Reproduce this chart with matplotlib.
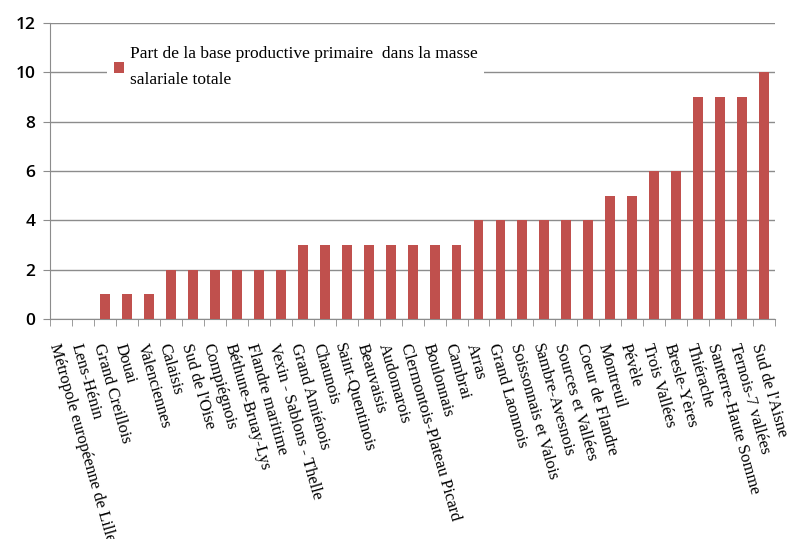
import matplotlib
matplotlib.use("Agg")
import matplotlib.pyplot as plt
import numpy as np

territoires = [
    "Métropole européenne de Lille", "Lens-Hénin", "Grand Creillois", "Douai",
    "Valenciennes", "Calaisis", "Sud de l'Oise", "Compiégnois", "Béthune-Bruay-Lys",
    "Flandre maritime", "Vexin - Sablons - Thelle", "Grand Amiénois", "Chaunois",
    "Saint-Quentinois", "Beauvaisis", "Audomarois", "Clermontois-Plateau Picard",
    "Boulonnais", "Cambrai", "Arras", "Grand Laonnois", "Soissonnais et Valois",
    "Sambre-Avesnois", "Sources et Vallées", "Coeur de Flandre", "Montreuil",
    "Pévèle", "Trois Vallées", "Bresle-Yères", "Thiérache", "Santerre-Haute Somme",
    "Ternois-7 vallées", "Sud de l'Aisne",
]
part = [0, 0, 1, 1, 1, 2, 2, 2, 2, 2, 2, 3, 3, 3, 3, 3, 3, 3, 3,
        4, 4, 4, 4, 4, 4, 5, 5, 6, 6, 9, 9, 9, 10]
serie = "Part de la base productive primaire  dans la masse\nsalariale totale"

RED = "#C0504D"
GRID = "#8C8C8C"

fig = plt.figure(figsize=(7.89, 5.39), dpi=100)
ax = fig.add_axes([0.064, 0.408, 0.918, 0.549])

x = np.arange(len(territoires))
ax.bar(x, part, width=0.45, color=RED, zorder=3, label=serie)

ax.set_xlim(-0.5, len(territoires) - 0.5)
ax.set_ylim(0, 12)
ax.set_yticks(range(0, 13, 2))
ax.tick_params(axis="y", labelsize=12.5, length=5, color=GRID, pad=6)
for t in ax.get_yticklabels():
    t.set_family("Open Sans")
    t.set_fontweight("semibold")
ax.grid(axis="y", color=GRID, lw=1, zorder=0)

ax.set_xticks(x)
ax.set_xticklabels(territoires, rotation=-74, ha="left", va="top",
                   rotation_mode="anchor", family="Liberation Serif", fontsize=12)
ax.tick_params(axis="x", which="major", length=0, pad=16)
ax.set_xticks(np.arange(-0.5, len(territoires)), minor=True)
ax.tick_params(axis="x", which="minor", length=5, color=GRID, direction="out")

for s in ["top", "right"]:
    ax.spines[s].set_visible(False)
for s in ["left", "bottom"]:
    ax.spines[s].set_color(GRID)

leg = ax.legend(loc="upper left", bbox_to_anchor=(0.066, 0.975), frameon=True,
                framealpha=1, edgecolor="none", fancybox=False,
                handlelength=0.6, handleheight=0.6, handletextpad=0.3,
                prop={"family": "Liberation Serif", "size": 12.5})
leg.get_texts()[0].set_linespacing(1.85)
leg.set_zorder(5)

fig.savefig("out.png", facecolor="white")
